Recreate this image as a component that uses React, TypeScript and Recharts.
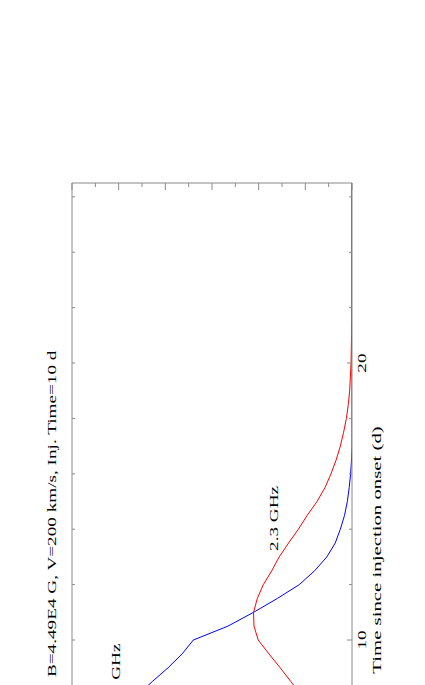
import React from "react";
import { LineChart, Line, XAxis, YAxis, ReferenceDot } from "recharts";

// time since injection onset (d)
const days = [8, 8.5, 9, 9.5, 10, 10.5, 11, 11.5, 12, 12.5, 13, 13.5, 14, 14.5, 15, 15.5, 16, 16.5, 17, 17.5, 18, 18.5, 19, 20, 21, 22, 24, 26.5];
// model light curves
const flux23 = [1.08, 1.31, 1.54, 1.78, 2.01, 2.1, 2.11, 2.03, 1.9, 1.72, 1.56, 1.36, 1.15, 0.96, 0.75, 0.58, 0.45, 0.34, 0.25, 0.18, 0.12, 0.08, 0.05, 0.02, 0.01, 0, 0, 0];
const flux83 = [4.6, 4.28, 3.94, 3.64, 3.4, 2.66, 2.11, 1.6, 1.13, 0.8, 0.54, 0.36, 0.25, 0.16, 0.1, 0.06, 0.03, 0.01, 0, 0, 0, 0, 0, 0, 0, 0, 0, 0];

const dayTicks = [0, 2, 4, 6, 8, 10, 12, 14, 16, 18, 20, 22, 24, 26];
const dayLabels = [10, 20];
const fluxTicks = [0, 0.5, 1, 1.5, 2, 2.5, 3, 3.5, 4, 4.5, 5, 5.5, 6];

const data = days.map((t, i) => ({ t, f23: flux23[i], f83: flux83[i] }));

const FONT = '"Liberation Serif", "Times New Roman", Times, serif';
const AXIS = "#8a8a8a";
const SX = 1.6; // text in the source is stretched along the baseline

// geometry of the unrotated chart (axes take 1px each, added to these margins)
const M = { top: 39, right: 19, bottom: 59, left: 59 };
const PW = 734;
const PH = 280;
const W = M.left + 1 + PW + 1 + M.right;
const H = M.top + 1 + PH + 1 + M.bottom;
const LEFT = M.left + 1;
const TOP = M.top + 1;

function Wide({ x, y, size = 12, anchor = "middle", children }: any) {
  return (
    <text
      transform={`translate(${x},${y}) scale(${SX},1)`}
      textAnchor={anchor}
      fontFamily={FONT}
      fontSize={size}
      fill="#000"
    >
      {children}
    </text>
  );
}

const DayTickBottom = ({ x, y, payload }: any) => {
  const major = payload.value % 10 === 0;
  return (
    <g>
      <line x1={x} y1={y} x2={x} y2={y - (major ? 5 : 3)} stroke={AXIS} />
      {dayLabels.includes(payload.value) && (
        <Wide x={x} y={y + 14} size={12}>
          {payload.value}
        </Wide>
      )}
    </g>
  );
};

const DayTickTop = ({ x, y }: any) => <line x1={x} y1={y} x2={x} y2={y + 3} stroke={AXIS} />;

const FluxTickLeft = ({ x, y, payload }: any) => {
  const major = Number.isInteger(payload.value);
  return <line x1={x} y1={y} x2={x + (major ? 7 : 4)} y2={y} stroke={AXIS} />;
};

const FluxTickRight = ({ x, y, payload }: any) => {
  const major = Number.isInteger(payload.value);
  return <line x1={x} y1={y} x2={x - (major ? 7 : 4)} y2={y} stroke={AXIS} />;
};

const curveLabel = (text: string) => (p: any) => (
  <Wide x={p.cx} y={p.cy} size={12}>
    {text}
  </Wide>
);

const axisCommon = {
  interval: 0 as const,
  tickSize: 0,
  tickMargin: 0,
  tickLine: false,
  axisLine: { stroke: AXIS },
  allowDataOverflow: true,
  type: "number" as const,
};

export default function App() {
  return (
    <div style={{ position: "fixed", left: 0, top: 0, width: 425, height: 685, overflow: "hidden", background: "#fff" }}>
      <div
        style={{
          position: "absolute",
          left: 72 - TOP,
          top: 183 + LEFT + PW,
          width: W,
          height: H,
          transform: "rotate(-90deg)",
          transformOrigin: "0 0",
        }}
      >
        <LineChart width={W} height={H} data={data} margin={M}>
          <XAxis
            {...axisCommon}
            xAxisId="b"
            dataKey="t"
            domain={[0, 26.5]}
            ticks={dayTicks}
            height={1}
            tick={(p: any) => <DayTickBottom {...p} />}
          />
          <XAxis
            {...axisCommon}
            xAxisId="t"
            orientation="top"
            dataKey="t"
            domain={[0, 26.5]}
            ticks={dayTicks}
            height={1}
            tick={(p: any) => <DayTickTop {...p} />}
          />
          <YAxis
            {...axisCommon}
            yAxisId="l"
            domain={[0, 6]}
            ticks={fluxTicks}
            width={1}
            tick={(p: any) => <FluxTickLeft {...p} />}
          />
          <YAxis
            {...axisCommon}
            yAxisId="r"
            orientation="right"
            domain={[0, 6]}
            ticks={fluxTicks}
            width={1}
            tick={(p: any) => <FluxTickRight {...p} />}
          />
          <Line xAxisId="b" yAxisId="l" type="linear" dataKey="f83" stroke="#0000ff" strokeWidth={1} dot={false} isAnimationActive={false} />
          <Line xAxisId="b" yAxisId="l" type="linear" dataKey="f23" stroke="#ff0000" strokeWidth={1} dot={false} isAnimationActive={false} />
          <ReferenceDot xAxisId="b" yAxisId="l" x={14.39} y={1.59} r={0} shape={curveLabel("2.3 GHz")} />
          <ReferenceDot xAxisId="b" yAxisId="l" x={8.7} y={4.97} r={0} shape={curveLabel("8.3 GHz")} />
        </LineChart>
        <svg width={W} height={H} style={{ position: "absolute", left: 0, top: 0, pointerEvents: "none" }}>
          <Wide x={300} y={24} size={12} anchor="start">
            B=4.49E4 G, V=200 km/s, Inj. Time=10 d
          </Wide>
          <Wide x={LEFT + PW / 2} y={TOP + PH + 29} size={13}>
            Time since injection onset (d)
          </Wide>
        </svg>
      </div>
    </div>
  );
}
